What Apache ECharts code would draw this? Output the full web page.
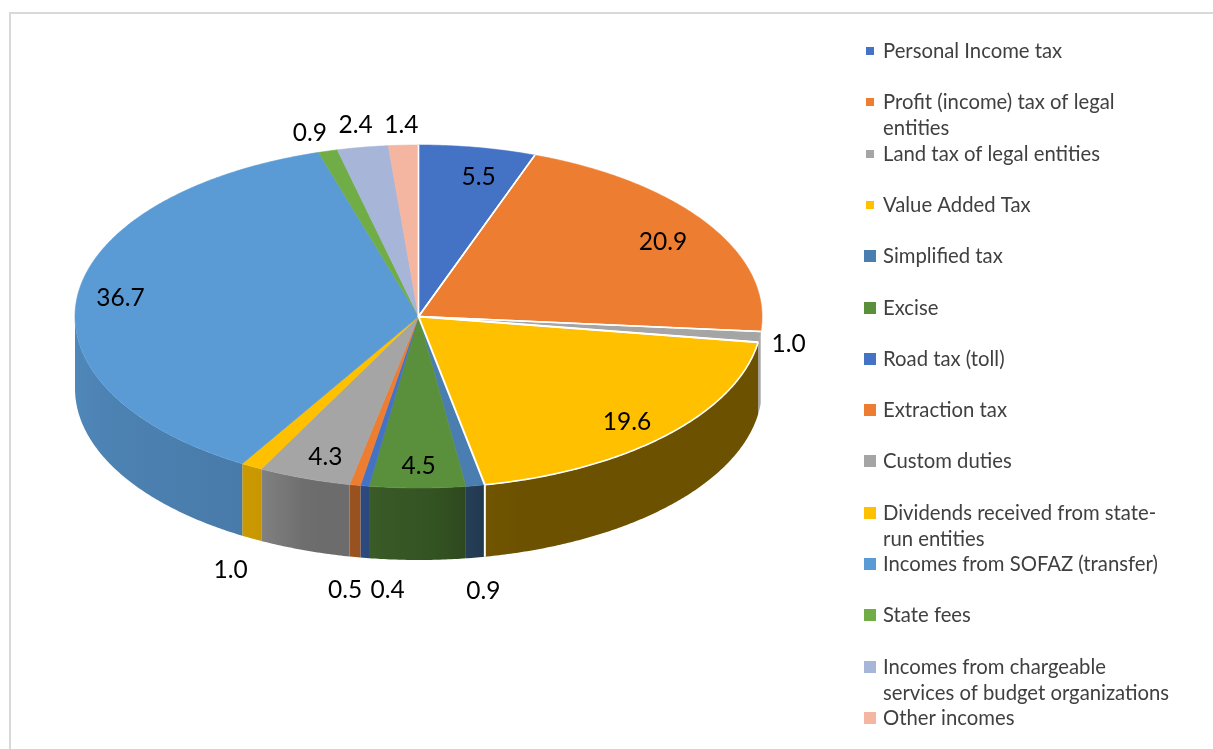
<!DOCTYPE html>
<html><head><meta charset="utf-8">
<style>html,body{margin:0;padding:0;background:#fff}#c{width:1213px;height:749px}</style>
<script src="https://cdn.jsdelivr.net/npm/echarts@6/dist/echarts.min.js"></script>
</head><body><div id="c"></div>
<script>
const categories = ["Personal Income tax","Profit (income) tax of legal entities","Land tax of legal entities","Value Added Tax","Simplified tax","Excise","Road tax (toll)","Extraction tax","Custom duties","Dividends received from state-run entities","Incomes from SOFAZ (transfer)","State fees","Incomes from chargeable services of budget organizations","Other incomes"];
const values = [5.5,20.9,1.0,19.6,0.9,4.5,0.4,0.5,4.3,1.0,36.7,0.9,2.4,1.4];
const legendLabels = ["Personal Income tax","Profit (income) tax of legal\nentities","Land tax of legal entities","Value Added Tax","Simplified tax","Excise","Road tax (toll)","Extraction tax","Custom duties","Dividends received from state-\nrun entities","Incomes from SOFAZ (transfer)","State fees","Incomes from chargeable\nservices of budget organizations","Other incomes"];
const colors = ["#4472c4","#ed7d31","#a5a5a5","#ffc000","#4a7eb0","#5a8f3c","#4472c4","#ed7d31","#a5a5a5","#ffc000","#5b9bd5","#70ad47","#a6b5d8","#f4b6a0"];

// Layout of the tilted pie (like a pie's center / radius options)
const CX = 418.5, CY = 316.5, RX = 343.5, RY = 171.5, DEPTH = 72;
const WALL_FROM = 95, WALL_TO = 270;   // part of the rim whose wall shows
const FRONT_WARP = 0.4;                // slight perspective stretch at the front, degrees
// Label offset from the rim point at each slice's middle angle
const labelOffsets = [[1,30],[-45,18],[29,7],[-39,-13],[8,105],[1,-22],[23,104],[-10,105],[21,-21],[-21,104],[43,3],[-18,-18],[-7,-22],[-2,-20]];
// Wall brightness by angle (degrees clockwise from the top)
const shadeStops = [[90,1],[98.4,1],[98.6,.42],[168,.42],[172,.5],[178,.58],[190,.65],[199,.66],[208,.79],[270,.88]];
// Slices drawn with white separators (the others meet without one)
const outlinedSlices = [0,1,2,3];

const total = values.reduce((a,b)=>a+b,0);
const starts = values.map((_,i)=>values.slice(0,i).reduce((a,b)=>a+b,0));
const deg = v => v/total*360;
const pt = (d,dy=0) => {
  const s=Math.sin(d*Math.PI/360), w=d-FRONT_WARP*Math.pow(s,40), r=w*Math.PI/180;
  return [CX+RX*Math.sin(r), CY-RY*Math.cos(r)+dy];
};
function shade(d){
  for(let i=1;i<shadeStops.length;i++){
    const [a,sa]=shadeStops[i-1],[b,sb]=shadeStops[i];
    if(d<=b) return sa+(sb-sa)*(d-a)/(b-a);
  }
  return shadeStops[shadeStops.length-1][1];
}
function mix(hex,f){
  const n=parseInt(hex.slice(1),16);
  return `rgb(${Math.round((n>>16&255)*f)},${Math.round((n>>8&255)*f)},${Math.round((n&255)*f)})`;
}
function arc(a,b,dy){ const out=[]; const n=Math.max(2,Math.ceil((b-a)*2)); for(let i=0;i<=n;i++) out.push(pt(a+(b-a)*i/n,dy)); return out; }

function renderSlice(idx,params,api){
  const value=api.value(0), start=api.value(1);
  const a=deg(start), b=a+deg(value), children=[];
  const wa=Math.max(a,WALL_FROM), wb=Math.min(b,WALL_TO);
  if(wb>wa){
    const top=arc(wa,wb,0), bottom=arc(wa,wb,DEPTH).reverse();
    const xs=top.map(p=>p[0]), xmin=Math.min(...xs), xmax=Math.max(...xs);
    const stops=[];
    for(let i=0;i<=10;i++){
      const d=wa+(wb-wa)*i/10;
      stops.push({offset:(pt(d)[0]-xmin)/(xmax-xmin||1),color:mix(colors[idx],Math.min(shade(d),1))});
    }
    stops.sort((p,q)=>p.offset-q.offset);
    children.push({type:'polygon',z2:1,shape:{points:top.concat(bottom)},
      style:{fill:new echarts.graphic.LinearGradient(0,0,1,0,stops),stroke:null}});
    if(idx===3){
      children.push({type:'line',z2:2,shape:{x1:pt(b)[0],y1:pt(b)[1],x2:pt(b)[0],y2:pt(b)[1]+DEPTH},
        style:{stroke:'#fff',lineWidth:2}});
    }
  }
  const rim=arc(a,b,0);
  children.push({type:'polygon',z2:10,shape:{points:[[CX,CY]].concat(rim)},
    style:{fill:colors[idx],stroke:colors[idx],lineWidth:0.6,lineJoin:'round'}});
  if(outlinedSlices.includes(idx)){
    children.push({type:'polyline',z2:12,shape:{points:[pt(a),[CX,CY],pt(b)]},style:{stroke:'#fff',lineWidth:idx===3?2:1.6,fill:null,lineJoin:'round'}});
    if(idx===3) children.push({type:'polyline',z2:12,shape:{points:rim},style:{stroke:'#fff',lineWidth:1.6,fill:null}});
  }
  const m=pt((a+b)/2);
  children.push({type:'text',z2:20,x:m[0]+labelOffsets[idx][0],y:m[1]+labelOffsets[idx][1],
    style:{text:value.toFixed(1),fill:'#000',font:'24.5px Lato',align:'center',verticalAlign:'middle'}});
  return {type:'group',children};
}

const LEGEND_CX=870, LEGEND_TEXT_X=883, LEGEND_Y0=51, LEGEND_STEP=51.3, LINE_H=26;
const legend = categories.map((name,i)=>{
  const twoLines = legendLabels[i].includes('\n');
  const size = i<4 ? 8 : 12;
  const left = LEGEND_CX-size/2;
  return {
    data:[name], orient:'vertical', left, padding:0,
    top: Math.round(LEGEND_Y0+LEGEND_STEP*i-LINE_H/2-1-(twoLines?LINE_H:0)),
    itemWidth:size, itemHeight:size, itemGap:0, icon:'rect', selectedMode:false,
    formatter:()=> (twoLines?' \n':'')+legendLabels[i],
    textStyle:{fontFamily:'Lato',fontSize:20.3,color:'#404040',lineHeight:LINE_H,padding:[2,0,0,LEGEND_TEXT_X-left-size-5]}
  };
});

const chart=echarts.init(document.getElementById('c'),null,{renderer:'canvas'});
chart.setOption({
  animation:false,
  backgroundColor:'#fff',
  graphic:[{type:'polyline',shape:{points:[[10,749],[10,13],[1213,13]]},style:{stroke:'#d9d9d9',lineWidth:2,fill:null}}],
  legend,
  series:categories.map((name,i)=>({
    type:'custom',name,coordinateSystem:'none',
    itemStyle:{color:colors[i]},
    data:[[values[i],starts[i]]],
    renderItem:(p,api)=>renderSlice(i,p,api),
    silent:true
  }))
});
</script></body></html>
